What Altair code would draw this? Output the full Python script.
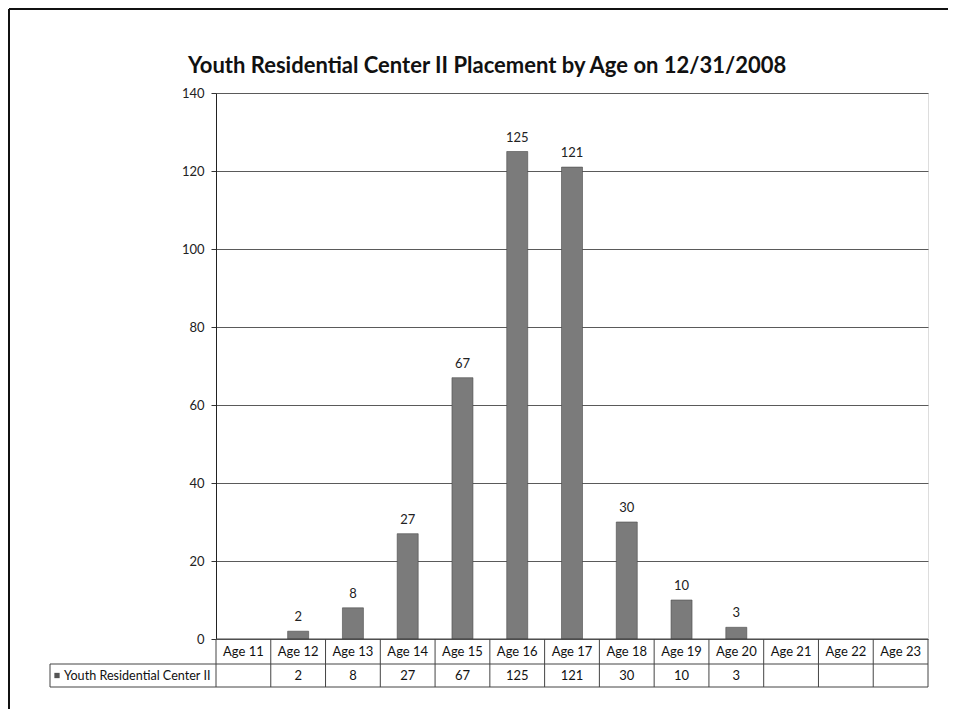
import altair as alt
import pandas as pd

categories = ["Age 11", "Age 12", "Age 13", "Age 14", "Age 15", "Age 16", "Age 17",
              "Age 18", "Age 19", "Age 20", "Age 21", "Age 22", "Age 23"]
values = [None, 2, 8, 27, 67, 125, 121, 30, 10, 3, None, None, None]
series_name = "Youth Residential Center II"
title_text = "Youth Residential Center II Placement by Age on 12/31/2008"

df = pd.DataFrame({
    "cat": categories,
    "value": values,
    "label": ["" if v is None else str(v) for v in values],
})

W, H = 712, 546
FONT = "Lato"
BAR = "#7b7b7b"
FS = 13

xenc = alt.X("cat:N", sort=categories,
             scale=alt.Scale(paddingInner=0, paddingOuter=0), axis=None)

base = alt.Chart(df)

bars = base.transform_filter("datum.value != null").mark_bar(
    size=21, color=BAR, stroke="#4a4a4a", strokeWidth=0.6
).encode(
    x=xenc,
    y=alt.Y("value:Q", scale=alt.Scale(domain=[0, 140]),
            axis=alt.Axis(values=list(range(0, 141, 20)), title=None,
                          grid=True, gridColor="#5a5a5a", gridWidth=1,
                          domainColor="#222", tickColor="#333", tickSize=5,
                          labelFont=FONT, labelFontSize=FS, labelColor="#222",
                          labelPadding=7)),
)

bar_labels = base.transform_filter("datum.value != null").mark_text(
    baseline="bottom", dy=-7, font=FONT, fontSize=FS, color="#222"
).encode(x=xenc, y=alt.Y("value:Q"), text="label:N")

cat_text = base.mark_text(baseline="middle", font=FONT, fontSize=FS, color="#111").encode(
    x=xenc, y=alt.value(558.5), text="cat:N")

val_text = base.mark_text(baseline="middle", font=FONT, fontSize=FS, color="#111").encode(
    x=xenc, y=alt.value(582.5), text="label:N")

vlines = base.mark_rule(color="#444", strokeWidth=1).encode(
    x=alt.X("cat:N", sort=categories, bandPosition=0,
            scale=alt.Scale(paddingInner=0, paddingOuter=0), axis=None),
    y=alt.value(H), y2=alt.value(594))

one = alt.Chart(pd.DataFrame({"k": [0]}))

right_line = one.mark_rule(color="#444").encode(
    x=alt.value(W), y=alt.value(H), y2=alt.value(594))
leg_left = one.mark_rule(color="#444").encode(
    x=alt.value(-166), y=alt.value(571), y2=alt.value(594))
hline0 = one.mark_rule(color="#444").encode(
    x=alt.value(0), x2=alt.value(W), y=alt.value(H))
hline1 = one.mark_rule(color="#444").encode(
    x=alt.value(-166), x2=alt.value(W), y=alt.value(571))
hline2 = one.mark_rule(color="#444").encode(
    x=alt.value(-166), x2=alt.value(W), y=alt.value(594))

leg_sq = one.mark_square(size=28, color="#555", opacity=1).encode(
    x=alt.value(-159), y=alt.value(582.5))
leg_txt = one.transform_calculate(t=f"'{series_name}'").mark_text(
    align="left", baseline="middle", font=FONT, fontSize=12.6, color="#111"
).encode(x=alt.value(-152), y=alt.value(582.5), text="t:N")

title = one.transform_calculate(t=f"'{title_text}'").mark_text(
    align="left", baseline="alphabetic", font=FONT, fontSize=22, fontWeight="bold",
    color="#111"
).encode(x=alt.value(-28), y=alt.value(-20), text="t:N")

border_top = one.mark_rule(color="#111", strokeWidth=2, clip=False).encode(
    x=alt.value(-207), x2=alt.value(760), y=alt.value(-84))
border_left = one.mark_rule(color="#111", strokeWidth=2, clip=False).encode(
    x=alt.value(-207), y=alt.value(-84), y2=alt.value(700))

chart = alt.layer(
    bars, bar_labels, cat_text, val_text, vlines, right_line, leg_left,
    hline0, hline1, hline2, leg_sq, leg_txt, title, border_top, border_left
).properties(
    width=W, height=H,
    autosize=alt.AutoSizeParams(type="none"),
    padding={"left": 208, "top": 85, "right": 20, "bottom": 70},
).configure_view(stroke=None).configure(background="white")

chart.save("out.html", embed_options={"renderer": "svg", "actions": False})
